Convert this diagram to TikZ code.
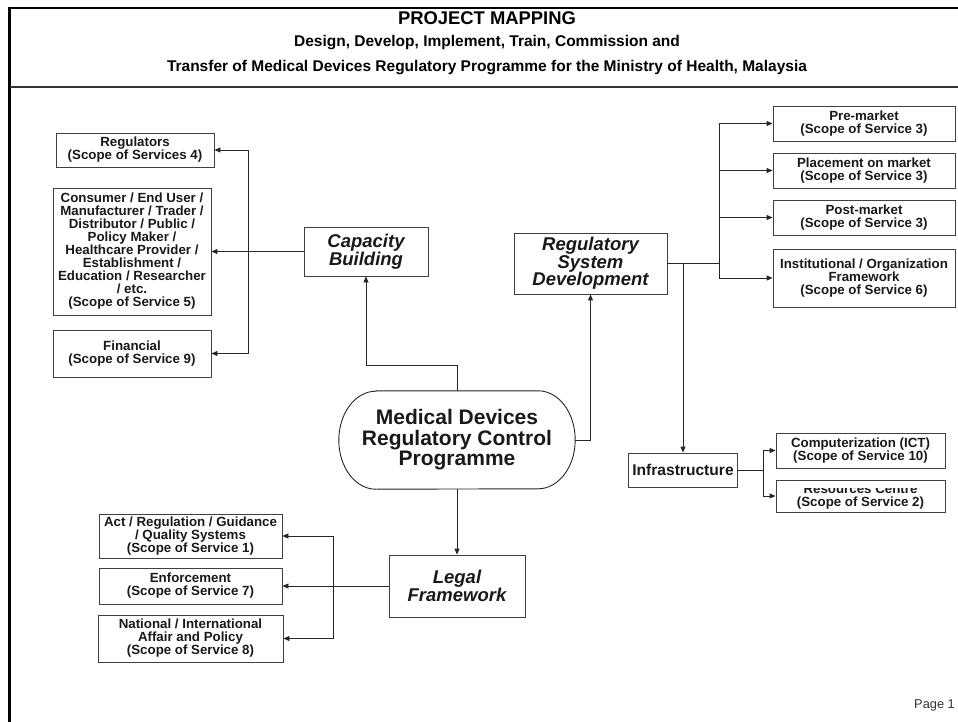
\documentclass[tikz,border=0pt]{standalone}
\usepackage{fontspec}
\setmainfont{Liberation Sans}
\usetikzlibrary{arrows.meta}

\begin{document}
\begin{tikzpicture}[x=1pt,y=-1pt,
  line/.style={draw=black!85, line width=0.9pt},
  arr/.style={line, -{Triangle[length=6pt,width=5pt]}},
  frame/.style={draw=black, line width=2.6pt},
  box/.style={draw=black!75, line width=0.9pt, inner sep=0pt, align=center,
    text=black!90, font=\bfseries\fontsize{13.3}{13}\selectfont},
  headbox/.style={box, font=\bfseries\itshape\fontsize{18.5}{17.5}\selectfont},
  plain/.style={inner sep=0pt, text=black!90, font=\bfseries\fontsize{13.3}{13}\selectfont},
  head/.style={inner sep=0pt, anchor=base, text=black, font=\bfseries\fontsize{15.5}{16}\selectfont}
]
\useasboundingbox (0,0) rectangle (958,722);
\fill[white] (0,0) rectangle (958,722);

% page frame and header rule
\draw[frame] (9.5,722) -- (9.5,8) -- (958,8);
\draw[draw=black!80, line width=2pt] (9.5,87) -- (958,87);

% header
\node[head, font=\bfseries\fontsize{18.4}{19}\selectfont] (title) at (487,25) {PROJECT MAPPING};
\node[head] (sub1) at (487,46.5) {Design, Develop, Implement, Train, Commission and};
\node[head] (sub2) at (487,71.5) {Transfer of Medical Devices Regulatory Programme for the Ministry of Health, Malaysia};

% central programme
\node[inner sep=0pt, minimum width=236pt, minimum height=98pt, align=center,
  text=black!90, font=\bfseries\fontsize{21}{20.5}\selectfont] (mdrc) at (457,440)
  {Medical Devices\\Regulatory Control\\Programme};
\draw[line] ([xshift=37pt]mdrc.north west) -- ([xshift=-37pt]mdrc.north east)
  arc[start angle=-90, end angle=90, x radius=37, y radius=49]
  -- ([xshift=37pt]mdrc.south west)
  arc[start angle=90, end angle=270, x radius=37, y radius=49] -- cycle;

% main branches
\node[headbox, minimum width=124pt, minimum height=49pt] (cap) at (366,251.5) {Capacity\\Building};
\node[headbox, minimum width=153pt, minimum height=61pt] (rsd) at (590.5,263.5) {Regulatory\\System\\Development};
\node[headbox, minimum width=136pt, minimum height=62pt] (legal) at (457,586) {Legal\\Framework};

% capacity building targets
\node[box, minimum width=158pt, minimum height=34pt] (reg) at (135,150) {Regulators\\(Scope of Services 4)};
\node[box, minimum width=158pt, minimum height=127pt] (cons) at (132,251.5)
  {Consumer / End User /\\Manufacturer / Trader /\\Distributor / Public /\\Policy Maker /\\Healthcare Provider /\\Establishment /\\Education / Researcher\\/ etc.\\(Scope of Service 5)};
\node[box, minimum width=158pt, minimum height=47pt] (fin) at (132,353.5) {Financial\\(Scope of Service 9)};

% regulatory system development targets
\node[box, minimum width=182pt, minimum height=35pt] (pre) at (864,123.5) {Pre-market\\(Scope of Service 3)};
\node[box, minimum width=182pt, minimum height=35pt] (place) at (864,170.5) {Placement on market\\(Scope of Service 3)};
\node[box, minimum width=182pt, minimum height=35pt] (post) at (864,217.5) {Post-market\\(Scope of Service 3)};
\node[box, minimum width=182pt, minimum height=58pt] (inst) at (864,278) {Institutional / Organization\\Framework\\(Scope of Service 6)};

% infrastructure
\node[box, font=\bfseries\fontsize{15.6}{16}\selectfont, minimum width=109pt, minimum height=34pt] (infra) at (683,470) {Infrastructure};
\node[box, minimum width=169pt, minimum height=35pt] (comp) at (860.5,450.5) {Computerization (ICT)\\(Scope of Service 10)};
\node[box, minimum width=169pt, minimum height=32pt] (res) at (860.5,496) {};
\begin{scope}
  \clip (776,488) rectangle (945,512);
  \node[plain, anchor=base] (restop) at (860.5,493) {Resources Centre};
\end{scope}
\node[plain, anchor=base] (resbot) at (860.5,506) {(Scope of Service 2)};

% legal framework targets
\node[box, minimum width=183pt, minimum height=44pt] (act) at (190.5,536) {Act / Regulation / Guidance\\/ Quality Systems\\(Scope of Service 1)};
\node[box, minimum width=183pt, minimum height=36pt] (enf) at (190.5,586) {Enforcement\\(Scope of Service 7)};
\node[box, minimum width=185pt, minimum height=47pt] (nat) at (190.5,638.5) {National / International\\Affair and Policy\\(Scope of Service 8)};

% connectors from the programme
\draw[arr] (mdrc.north) -- ++(0,-25) -| (cap.south);
\draw[arr] (mdrc.east) -| (rsd.south);
\draw[arr] (mdrc.south) -- (legal.north);

% capacity building fan-out
\coordinate (cbj) at (248,251.5);
\draw[arr] (cap.west) -- (cons.east);
\draw[arr] (cbj) |- (reg.east);
\draw[arr] (cbj) |- (fin.east);

% regulatory system development fan-out
\coordinate (rj) at (719,263.5);
\coordinate (ij) at (683,263.5);
\draw[line] (rsd.east) -- (rj);
\draw[arr] (rj) |- (pre.west);
\draw[arr] (rj) |- (place.west);
\draw[arr] (rj) |- (post.west);
\draw[arr] (rj) |- (inst.west);
\draw[arr] (ij) -- (infra.north);

% infrastructure fan-out
\coordinate (fj) at (763,470);
\draw[line] (infra.east) -- (fj);
\draw[arr] (fj) |- (comp.west);
\draw[arr] (fj) |- (res.west);

% legal framework fan-out
\coordinate (lj) at (333,586);
\draw[arr] (legal.west) -- (enf.east);
\draw[arr] (lj) |- (act.east);
\draw[arr] (lj) |- (nat.east);

% footer
\node[inner sep=0pt, anchor=base east, text=black!80, font=\fontsize{12.8}{13}\selectfont] (page) at (955,708) {Page 1};
\end{tikzpicture}
\end{document}
